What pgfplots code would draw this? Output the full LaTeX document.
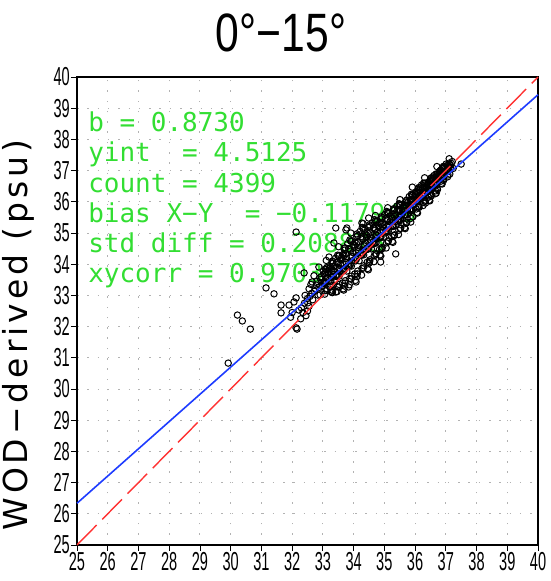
\documentclass[border=0pt]{standalone}
\usepackage{pgfplots}
\pgfplotsset{compat=1.18}
\usepackage{fontspec}
\setmainfont{Liberation Sans}
\newfontfamily\ticfont[FakeStretch=0.56]{Liberation Sans}
\newfontfamily\titfont[FakeStretch=0.79]{Liberation Sans}
\newfontfamily\labfont[LetterSpace=12]{DejaVu Sans}
\newfontfamily\statfont{DejaVu Sans Mono}
\usetikzlibrary{calc}
\definecolor{statgreen}{RGB}{50,222,50}
\definecolor{fitblue}{RGB}{30,60,255}
\definecolor{onered}{RGB}{255,50,50}
\begin{document}
\begin{tikzpicture}
\begin{axis}[name=ax, set layers,
  width=461bp, height=468bp, scale only axis,
  xmin=25, xmax=40, ymin=25, ymax=40,
  xtick={25,...,40}, ytick={25,...,40},
  xtick pos=left, ytick pos=left, tick align=outside,
  major tick length=6bp,
  tick style={black, line width=0.8bp},
  grid=major,
  major grid style={gray!60, line width=0.9bp, dash pattern=on 1.5bp off 8.8bp},
  axis line style={line width=1.4bp},
  tick label style={font=\ticfont\fontsize{26bp}{27bp}\selectfont},
  xticklabel style={inner sep=1.5bp},
  yticklabel style={inner sep=1bp},
  /pgf/number format/assume math mode=true,
]
% scatter
\addplot[only marks, mark=o, mark size=3.2bp, black, mark options={line width=1bp}] coordinates {
(32.51,32.76) (32.55,33.21) (32.58,32.97) (32.61,33.35) (32.64,33.07) (32.67,32.86)
(32.71,33.63) (32.75,33.21) (32.78,33.33) (32.81,33.45) (32.84,33.01) (32.87,33.25) (32.90,33.57) (32.73,33.13)
(32.91,33.02) (32.95,33.60) (32.98,33.29) (33.01,33.78) (33.04,33.42) (33.07,33.15) (33.10,33.65) (32.93,33.51) (33.03,33.38) (33.08,33.85)
(33.11,34.12) (33.15,33.54) (33.18,33.71) (33.21,33.87) (33.24,33.27) (33.27,33.60) (33.30,34.04) (33.13,33.43) (33.23,33.82) (33.28,33.10)
(33.31,33.09) (33.35,33.93) (33.38,33.48) (33.41,34.19) (33.44,33.67) (33.47,33.28) (33.50,34.00) (33.33,33.80) (33.43,33.61) (33.48,34.29)
(33.51,34.56) (33.55,33.77) (33.58,34.00) (33.61,34.22) (33.64,33.40) (33.67,33.85) (33.70,34.45) (33.53,33.62) (33.63,34.15) (33.68,33.17)
(33.71,33.30) (33.75,34.34) (33.78,33.78) (33.81,34.66) (33.84,34.02) (33.87,33.54) (33.90,34.42) (33.73,34.18) (33.83,33.94) (33.88,34.78)
(33.91,35.00) (33.95,34.11) (33.98,34.37) (34.01,34.62) (34.04,33.69) (34.07,34.20) (34.10,34.88) (33.93,33.94) (34.03,34.54) (34.08,33.43)
(34.11,33.60) (34.15,34.71) (34.18,34.11) (34.21,35.05) (34.24,34.37) (34.27,33.86) (34.30,34.79) (34.13,34.54) (34.23,34.28) (34.28,35.18)
(34.31,35.30) (34.35,34.46) (34.38,34.70) (34.41,34.94) (34.44,34.06) (34.47,34.54) (34.50,35.18) (34.33,34.30) (34.43,34.86) (34.48,33.82)
(34.51,34.04) (34.55,35.02) (34.58,34.49) (34.61,35.32) (34.64,34.72) (34.67,34.27) (34.70,35.09) (34.53,34.87) (34.63,34.64) (34.68,35.43)
(34.71,35.56) (34.75,34.82) (34.78,35.03) (34.81,35.24) (34.84,34.47) (34.87,34.89) (34.90,35.45) (34.73,34.68) (34.83,35.17) (34.88,34.26)
(34.91,34.48) (34.95,35.33) (34.98,34.87) (35.01,35.59) (35.04,35.07) (35.07,34.68) (35.10,35.39) (34.93,35.20) (35.03,35.00) (35.08,35.69)
(35.11,35.81) (35.15,35.18) (35.18,35.36) (35.21,35.54) (35.24,34.88) (35.27,35.24) (35.30,35.72) (35.13,35.06) (35.23,35.48) (35.28,34.70)
(35.31,34.92) (35.35,35.64) (35.38,35.25) (35.41,35.86) (35.44,35.42) (35.47,35.09) (35.50,35.69) (35.33,35.53) (35.43,35.36) (35.48,35.94)
(35.51,36.07) (35.55,35.54) (35.58,35.69) (35.61,35.84) (35.64,35.29) (35.67,35.59) (35.70,35.99) (35.53,35.44) (35.63,35.79) (35.68,35.14)
(35.71,35.32) (35.75,35.97) (35.78,35.62) (35.81,36.17) (35.84,35.77) (35.87,35.47) (35.90,36.02) (35.73,35.87) (35.83,35.72) (35.88,36.24)
(35.91,36.47) (35.95,36.00) (35.98,36.13) (36.01,36.27) (36.04,35.77) (36.07,36.04) (36.10,36.40) (35.93,35.91) (36.03,36.22) (36.08,35.64)
(36.11,35.86) (36.15,36.38) (36.18,36.10) (36.21,36.54) (36.24,36.22) (36.27,35.98) (36.30,36.42) (36.13,36.30) (36.23,36.18) (36.28,36.60)
(36.31,36.77) (36.35,36.35) (36.38,36.47) (36.41,36.59) (36.44,36.15) (36.47,36.39) (36.50,36.71) (36.33,36.27) (36.43,36.55) (36.48,36.03)
(36.51,36.25) (36.55,36.70) (36.58,36.46) (36.61,36.84) (36.64,36.56) (36.67,36.35) (36.70,36.74) (36.53,36.63) (36.63,36.53) (36.68,36.89)
(36.71,37.13) (36.75,36.81) (36.78,36.90) (36.81,36.99) (36.84,36.66) (36.87,36.84) (36.90,37.08) (36.73,36.75) (36.83,36.96) (36.88,36.57)
(36.91,36.79) (36.95,37.11) (36.98,36.94) (37.01,37.21) (37.04,37.01) (37.07,36.86) (37.10,37.14) (36.93,37.06)
(37.11,37.38) (37.15,37.17) (37.18,37.23) (37.21,37.29) (37.24,37.07)
(33.12,33.16) (33.06,33.41) (33.15,33.59) (33.09,33.74) (33.13,33.89)
(33.32,33.16) (33.26,33.46) (33.35,33.67) (33.29,33.85) (33.33,34.03)
(33.52,33.27) (33.46,33.62) (33.55,33.86) (33.49,34.07) (33.53,34.28)
(33.72,33.39) (33.66,33.78) (33.75,34.05) (33.69,34.28) (33.73,34.52)
(33.92,33.53) (33.86,33.94) (33.95,34.23) (33.89,34.48) (33.93,34.73)
(34.12,33.69) (34.06,34.11) (34.15,34.41) (34.09,34.67) (34.13,34.92)
(34.32,33.88) (34.26,34.29) (34.35,34.58) (34.29,34.83) (34.33,35.08)
(34.52,34.09) (34.46,34.48) (34.55,34.75) (34.49,34.98) (34.53,35.22)
(34.72,34.30) (34.66,34.66) (34.75,34.91) (34.69,35.13) (34.73,35.35)
(34.92,34.50) (34.86,34.84) (34.95,35.08) (34.89,35.29) (34.93,35.49)
(35.12,34.72) (35.06,35.03) (35.15,35.25) (35.09,35.43) (35.13,35.62)
(35.32,34.92) (35.26,35.21) (35.35,35.42) (35.29,35.59) (35.33,35.76)
(35.52,35.14) (35.46,35.40) (35.55,35.58) (35.49,35.74) (35.53,35.89)
(35.72,35.33) (35.66,35.58) (35.75,35.75) (35.69,35.90) (35.73,36.05)
(35.92,35.52) (35.86,35.76) (35.95,35.93) (35.89,36.07) (35.93,36.21)
(36.12,35.84) (36.06,36.05) (36.15,36.19) (36.09,36.32) (36.13,36.45)
(36.32,36.02) (36.26,36.22) (36.35,36.36) (36.29,36.48) (36.33,36.60)
(36.52,36.21) (36.46,36.40) (36.55,36.54) (36.49,36.65) (36.53,36.77)
(36.72,36.43) (36.66,36.59) (36.75,36.70) (36.69,36.79) (36.73,36.89)
(36.92,36.73) (36.86,36.87) (36.95,36.97) (36.89,37.06) (36.93,37.14)
(33.06,33.04) (33.13,33.20) (33.09,33.40) (33.15,33.56) (33.04,33.69) (33.11,33.83)
(33.26,33.13) (33.33,33.33) (33.29,33.57) (33.35,33.77) (33.24,33.93) (33.31,34.10)
(33.46,33.12) (33.53,33.35) (33.49,33.64) (33.55,33.87) (33.44,34.06) (33.51,34.26)
(33.66,33.21) (33.73,33.47) (33.69,33.81) (33.75,34.07) (33.64,34.30) (33.71,34.52)
(33.86,33.34) (33.93,33.62) (33.89,33.98) (33.95,34.26) (33.84,34.50) (33.91,34.74)
(34.06,33.48) (34.13,33.78) (34.09,34.16) (34.15,34.46) (34.04,34.71) (34.11,34.97)
(34.26,33.65) (34.33,33.95) (34.29,34.33) (34.35,34.63) (34.24,34.88) (34.31,35.14)
(34.46,33.86) (34.53,34.14) (34.49,34.50) (34.55,34.78) (34.44,35.02) (34.51,35.26)
(34.66,34.08) (34.73,34.34) (34.69,34.68) (34.75,34.94) (34.64,35.17) (34.71,35.39)
(34.86,34.30) (34.93,34.54) (34.89,34.86) (34.95,35.10) (34.84,35.31) (34.91,35.52)
(35.06,34.52) (35.13,34.75) (35.09,35.04) (35.15,35.27) (35.04,35.46) (35.11,35.66)
(35.26,34.73) (35.33,34.94) (35.29,35.21) (35.35,35.42) (35.24,35.60) (35.31,35.78)
(35.46,34.95) (35.53,35.15) (35.49,35.39) (35.55,35.59) (35.44,35.75) (35.51,35.92)
(35.66,35.17) (35.73,35.34) (35.69,35.57) (35.75,35.74) (35.64,35.89) (35.71,36.04)
(35.86,35.35) (35.93,35.52) (35.89,35.75) (35.95,35.92) (35.84,36.07) (35.91,36.22)
(36.06,35.66) (36.13,35.82) (36.09,36.02) (36.15,36.18) (36.04,36.31) (36.11,36.45)
(36.26,35.88) (36.33,36.02) (36.29,36.20) (36.35,36.34) (36.24,36.46) (36.31,36.58)
(36.46,36.05) (36.53,36.19) (36.49,36.37) (36.55,36.51) (36.44,36.63) (36.51,36.75)
(36.66,36.26) (36.73,36.39) (36.69,36.54) (36.75,36.67) (36.64,36.77) (36.71,36.88)
(36.86,36.59) (36.93,36.69) (36.89,36.83) (36.95,36.93) (36.84,37.02) (36.91,37.11)
(37.06,36.80) (37.13,36.89) (37.09,37.00) (37.15,37.09) (37.04,37.16) (37.11,37.24)
(30.22,32.37) (30.38,32.18) (30.64,31.92) (29.92,30.83) (31.15,33.24) (31.41,33.05) (31.64,32.69) (31.64,32.44)
(31.90,32.69) (32.13,31.96) (32.06,32.79) (32.13,35.03) (33.42,35.16) (35.37,34.33) (34.88,34.07) (37.50,37.21)
(36.69,36.28) (36.34,35.96) (33.78,35.16) (33.36,34.68) (32.13,32.92) (32.16,31.92) (33.42,33.11) (33.84,33.27)
(32.22,32.53) (32.30,32.60) (32.35,32.45) (32.40,32.75) (32.45,32.35) (32.50,32.90) (32.28,32.25) (32.42,33.00)
(31.95,32.30) (32.00,32.45) (32.50,32.50) (32.55,32.65) (32.39,33.72) (32.87,33.91) (33.20,34.23) (32.65,33.43)
(33.75,35.10) (34.27,35.32) (34.49,35.48) (36.43,36.15) (36.01,35.83)
};
% 1:1 line
\addplot[onered, line width=1.4bp, dash pattern=on 28bp off 8bp, on layer=axis foreground] coordinates {(25,25) (40,40)};
% regression line
\addplot[fitblue, line width=1.6bp, on layer=axis foreground] coordinates {(25,26.3375) (40,39.4325)};
% statistics text
\begin{scope}[on layer=axis foreground, every node/.style={anchor=base west, inner sep=0pt, text=statgreen, font=\statfont\fontsize{26bp}{28bp}\selectfont}]
\node at (axis cs:25.36,38.24) {b = 0.8730};
\node at (axis cs:25.36,37.28) {yint\ \ = 4.5125};
\node at (axis cs:25.36,36.31) {count = 4399};
\node at (axis cs:25.36,35.35) {bias X−Y\ \ = −0.117949};
\node at (axis cs:25.36,34.36) {std diff = 0.208875};
\node at (axis cs:25.36,33.40) {xycorr = 0.9703};
\end{scope}
\end{axis}
\node[anchor=base, inner sep=0pt, font=\titfont\fontsize{54bp}{56bp}\selectfont] at ($(ax.south west)+(204bp,493bp)$) {0°−15°};
\node[anchor=base, rotate=90, inner sep=0pt, font=\labfont\fontsize{33bp}{35bp}\selectfont] at ($(ax.south west)+(-49bp,210bp)$) {WOD−derived (psu)};
\pgfresetboundingbox
\path ($(ax.south west)+(-77bp,-36bp)$) rectangle ($(ax.south west)+(474bp,545bp)$);
\end{tikzpicture}
\end{document}
